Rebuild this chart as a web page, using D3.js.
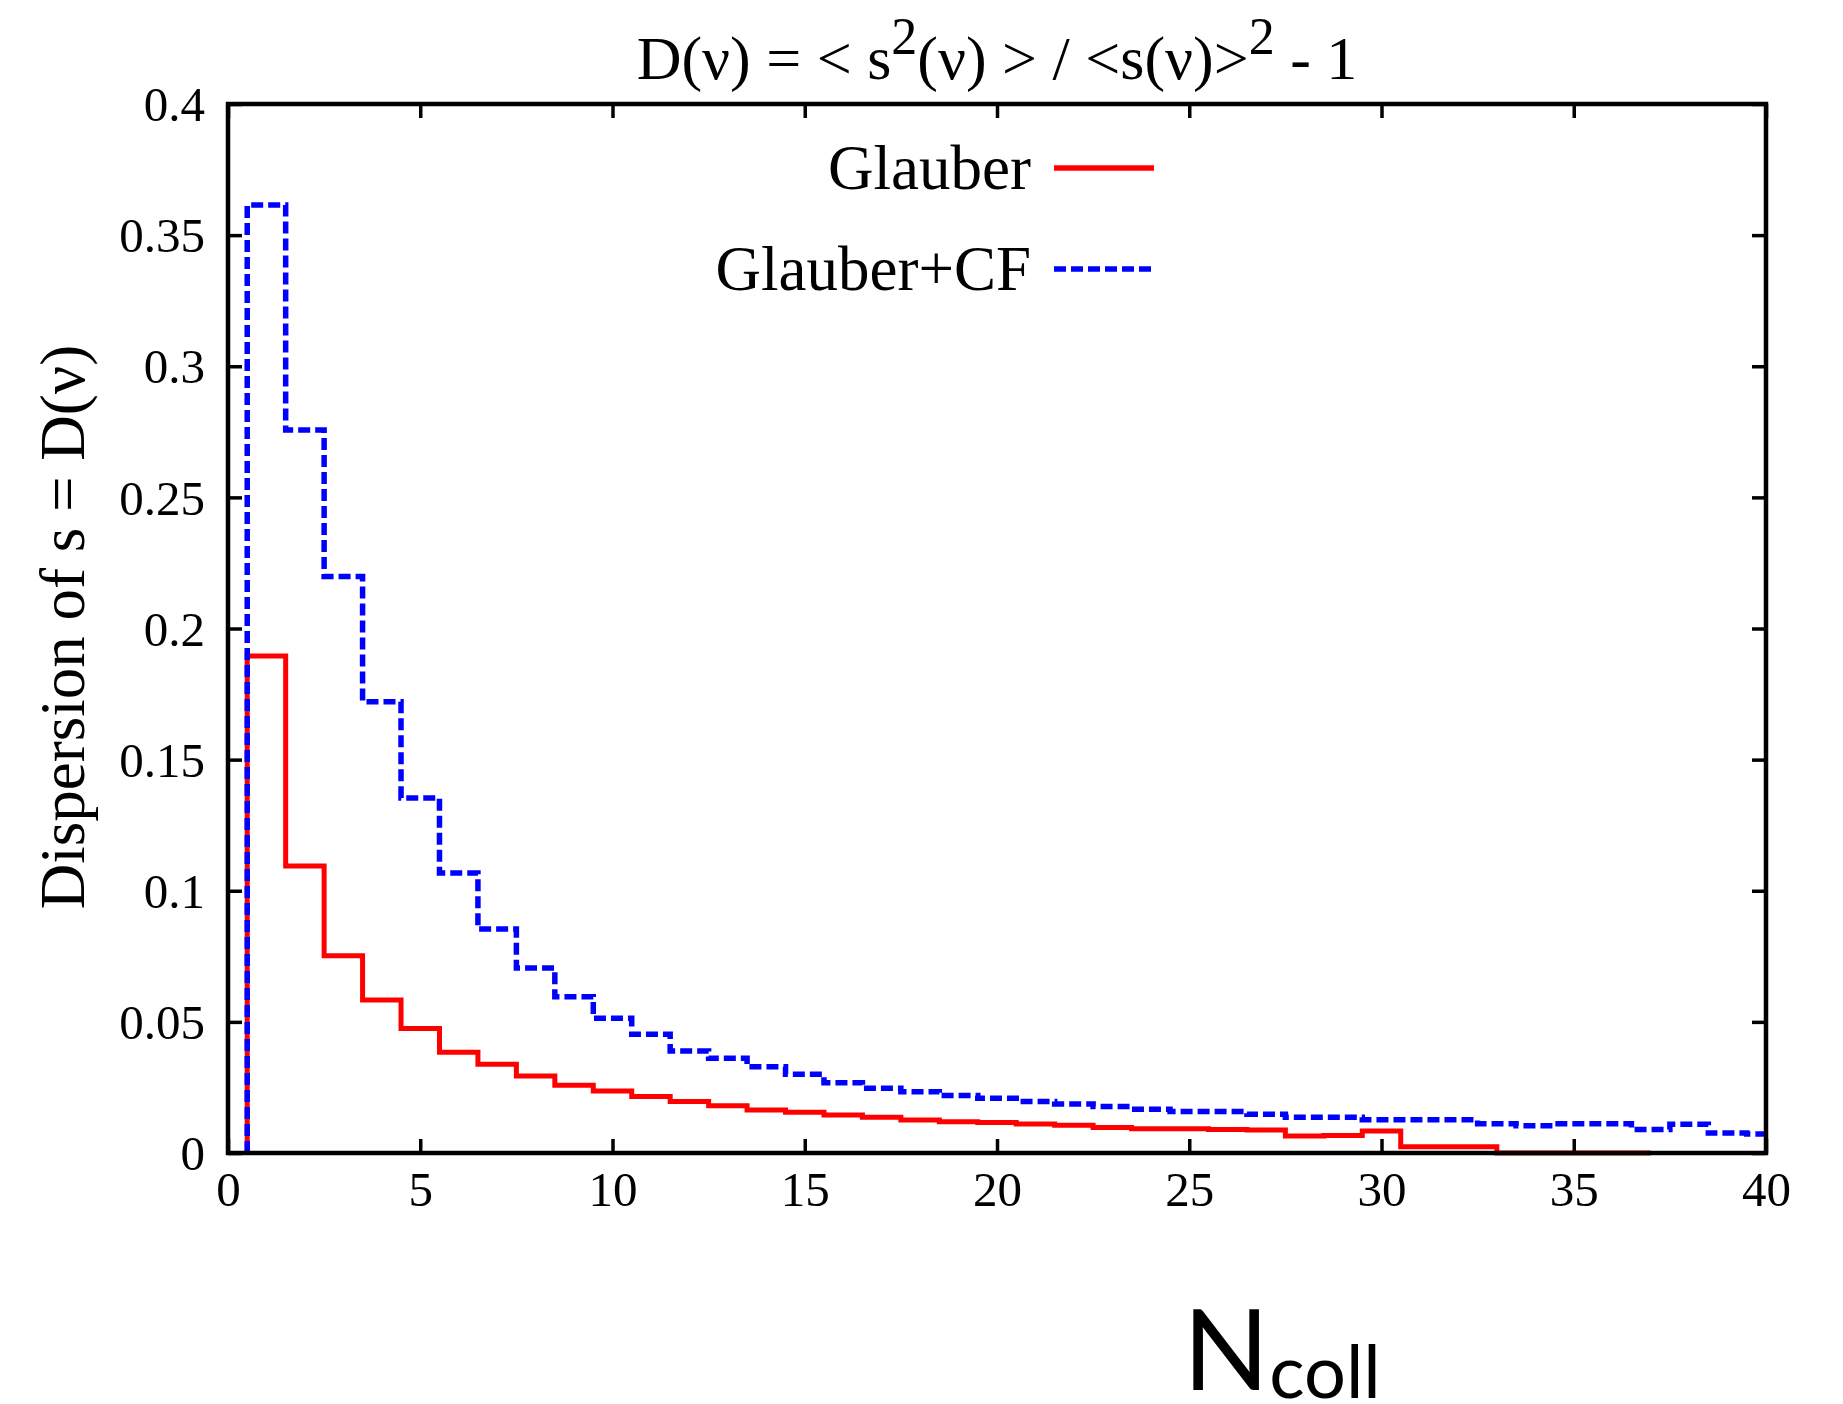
<!DOCTYPE html>
<html>
<head>
<meta charset="utf-8">
<script src="https://cdn.jsdelivr.net/npm/d3@7"></script>
<style>
  html, body { margin: 0; padding: 0; background: #fff; }
  svg { display: block; }
  .serif { font-family: "Liberation Serif", "Times New Roman", serif; }
</style>
</head>
<body>
<div id="chart"></div>
<script>
// ---- data ----
const glauberX = [1,2,3,4,5,6,7,8,9,10,11,12,13,14,15,16,17,18,19,20,21,22,23,24,25,26,27,28,29,30,31,32,34,36];
const glauberY = [0.1895,0.1094,0.0752,0.0583,0.0475,0.0384,0.0338,0.0294,0.0258,0.0236,0.0215,0.0196,0.0180,0.0164,0.0155,0.0145,0.0136,0.0126,0.0119,0.0116,0.0111,0.0106,0.0097,0.0092,0.0092,0.0090,0.0088,0.0065,0.0067,0.0084,0.0024,0.0024,0,0];
const cfX = [1,2,3,4,5,6,7,8,9,10,11,12,13,14,15,16,17,18,19,20,21,22,23,24,25,26,27,28,29,30,31,32,33,34,35,36,37,38,39,40];
const cfY = [0.3615,0.2757,0.2198,0.1721,0.1354,0.1068,0.0854,0.0705,0.0596,0.0514,0.0453,0.0389,0.0361,0.0329,0.0300,0.0268,0.0247,0.0234,0.0219,0.0209,0.0196,0.0187,0.0177,0.0167,0.0158,0.0158,0.0148,0.0136,0.0136,0.0127,0.0127,0.0127,0.0112,0.0104,0.0112,0.0112,0.0090,0.0110,0.0076,0.0072];
const xTicks = [0,5,10,15,20,25,30,35,40];
const yTicks = [0,0.05,0.1,0.15,0.2,0.25,0.3,0.35,0.4];
const yTickLabels = ["0","0.05","0.1","0.15","0.2","0.25","0.3","0.35","0.4"];
const seriesNames = ["Glauber","Glauber+CF"];
const seriesColors = ["#ff0000","#0000ff"];

// ---- layout ----
const W = 1843, H = 1404;
const L = 228, R = 1766, T = 104, B = 1153;

const svg = d3.select("#chart").append("svg").attr("width", W).attr("height", H);

const x = d3.scaleLinear().domain([0, 40]).range([L, R]);
const y = d3.scaleLinear().domain([0, 0.4]).range([B, T]);

svg.append("defs").append("clipPath").attr("id", "plotclip")
  .append("rect").attr("x", L).attr("y", T - 5).attr("width", R - L).attr("height", B - T + 10);

// gnuplot-style histeps
function histeps(xs, ys) {
  const n = xs.length;
  const b = [];
  b.push(xs[0] - (xs[1] - xs[0]) / 2);
  for (let i = 1; i < n; i++) b.push((xs[i - 1] + xs[i]) / 2);
  b.push(xs[n - 1] + (xs[n - 1] - xs[n - 2]) / 2);
  const pts = [[b[0], 0]];
  for (let i = 0; i < n; i++) {
    pts.push([b[i], ys[i]]);
    pts.push([b[i + 1], ys[i]]);
  }
  return pts;
}
const line = d3.line().x(d => x(d[0])).y(d => y(d[1]));

const g = svg.append("g").attr("clip-path", "url(#plotclip)");
g.append("path").datum(histeps(glauberX, glauberY))
  .attr("d", line).attr("fill", "none").attr("stroke", seriesColors[0])
  .attr("stroke-width", 5).attr("stroke-linejoin", "miter");
g.append("path").datum(histeps(cfX, cfY))
  .attr("d", line).attr("fill", "none").attr("stroke", seriesColors[1])
  .attr("stroke-width", 5.5).attr("stroke-dasharray", "12,5").attr("stroke-linejoin", "miter");

// axes (ticks inward, mirrored)
const tickLen = 14;
const axB = d3.axisBottom(x).tickValues(xTicks).tickSize(-tickLen).tickFormat(d => d);
const axT = d3.axisTop(x).tickValues(xTicks).tickSize(-tickLen).tickFormat("");
const axLf = d3.axisLeft(y).tickValues(yTicks).tickSize(-tickLen).tickFormat((d, i) => yTickLabels[i]);
const axRt = d3.axisRight(y).tickValues(yTicks).tickSize(-tickLen).tickFormat("");

function styleAxis(sel) {
  sel.select(".domain").remove();
  sel.selectAll(".tick line").attr("stroke", "#000").attr("stroke-width", 3.5);
  sel.selectAll(".tick text").attr("fill", "#000")
    .style("font-family", '"Liberation Serif", serif').style("font-size", "49px");
}
const gB = svg.append("g").attr("transform", `translate(0,${B})`).call(axB).call(styleAxis);
gB.selectAll(".tick text").attr("y", 53).attr("dy", null).attr("text-anchor", "middle");
const gT = svg.append("g").attr("transform", `translate(0,${T})`).call(axT).call(styleAxis);
const gL = svg.append("g").attr("transform", `translate(${L},0)`).call(axLf).call(styleAxis);
gL.selectAll(".tick text").attr("x", -23).attr("dy", "0.34em").attr("text-anchor", "end");
const gR = svg.append("g").attr("transform", `translate(${R},0)`).call(axRt).call(styleAxis);
[gB, gT, gL, gR].forEach(a => a.selectAll(".tick text").filter(function(){return this.textContent==="";}).remove());

// frame
svg.append("rect").attr("x", L).attr("y", T).attr("width", R - L).attr("height", B - T)
  .attr("fill", "none").attr("stroke", "#000").attr("stroke-width", 4.5);

// title
const title = svg.append("text").attr("class", "serif")
  .attr("x", (L + R) / 2).attr("y", 79).attr("text-anchor", "middle")
  .style("font-size", "62px").attr("fill", "#000");
title.append("tspan").text("D(ν) = < s");
title.append("tspan").attr("dy", -25).style("font-size", "52px").text("2");
title.append("tspan").attr("dy", 25).text("(ν) > / <s(ν)>");
title.append("tspan").attr("dy", -25).style("font-size", "52px").text("2");
title.append("tspan").attr("dy", 25).text(" - 1");

// legend
const legY = [168, 269];
seriesNames.forEach((name, i) => {
  svg.append("text").attr("class", "serif")
    .attr("x", 1031).attr("y", legY[i] + 21).attr("text-anchor", "end")
    .style("font-size", "63px").attr("fill", "#000").text(name);
  const ln = svg.append("line").attr("x1", 1054).attr("x2", 1154)
    .attr("y1", legY[i]).attr("y2", legY[i])
    .attr("stroke", seriesColors[i]).attr("stroke-width", 5.5);
  if (i === 1) ln.attr("stroke-dasharray", "12,5");
});

// y label
svg.append("text").attr("class", "serif")
  .attr("transform", "translate(84,627) rotate(-90)")
  .attr("text-anchor", "middle").style("font-size", "63px").attr("fill", "#000")
  .text("Dispersion of s = D(ν)");

// x label
const xl = svg.append("text").attr("x", 1183).attr("y", 1390)
  .style("font-family", "Lato, 'Noto Sans', sans-serif").attr("fill", "#000");
xl.append("tspan").style("font-size", "113px").text("N");
xl.append("tspan").attr("dy", 8).style("font-size", "74px").text("coll");
</script>
</body>
</html>
